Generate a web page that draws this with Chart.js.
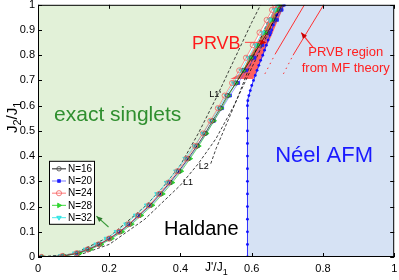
<!DOCTYPE html>
<html><head><meta charset="utf-8">
<script src="https://cdn.jsdelivr.net/npm/chart.js@4.4.0/dist/chart.umd.min.js"></script>
<style>html,body{margin:0;padding:0;background:#fff;overflow:hidden}#wrap{width:399px;height:280px;position:relative}</style>
</head><body><div id="wrap"><canvas id="c" width="399" height="280"></canvas></div>
<script>
// ---- data ----
const xTicks = [0, 0.2, 0.4, 0.6, 0.8, 1];
const yTicks = [0, 0.1, 0.2, 0.3, 0.4, 0.5, 0.6, 0.7, 0.8, 0.9, 1];
const seriesNames = ['N=16', 'N=20', 'N=24', 'N=28', 'N=32'];

const yGrid = [0, 0.004, 0.015, 0.03, 0.05, 0.073, 0.1, 0.13, 0.165, 0.205, 0.25, 0.295, 0.34, 0.39, 0.44, 0.49, 0.54, 0.59, 0.64, 0.69, 0.74, 0.79, 0.84, 0.89, 0.94, 0.98, 1.0];
const xN16 = [0.010, 0.070, 0.110, 0.140, 0.172, 0.200, 0.229, 0.256, 0.283, 0.314, 0.343, 0.370, 0.395, 0.421, 0.446, 0.469, 0.490, 0.512, 0.532, 0.556, 0.578, 0.600, 0.622, 0.644, 0.664, 0.678, 0.685];
const xN20 = [0.012, 0.072, 0.112, 0.143, 0.174, 0.203, 0.232, 0.259, 0.286, 0.317, 0.346, 0.373, 0.398, 0.424, 0.449, 0.472, 0.494, 0.517, 0.539, 0.562, 0.585, 0.608, 0.630, 0.652, 0.671, 0.684, 0.690];
const xN24 = [0.010, 0.068, 0.108, 0.139, 0.170, 0.199, 0.227, 0.254, 0.281, 0.311, 0.340, 0.366, 0.391, 0.417, 0.441, 0.463, 0.484, 0.505, 0.524, 0.545, 0.565, 0.584, 0.603, 0.622, 0.642, 0.657, 0.665];
const xN28 = [0.015, 0.075, 0.117, 0.147, 0.178, 0.207, 0.236, 0.263, 0.290, 0.321, 0.350, 0.377, 0.402, 0.427, 0.451, 0.473, 0.494, 0.515, 0.535, 0.556, 0.576, 0.597, 0.617, 0.638, 0.657, 0.671, 0.678];
const xN32 = [0.005, 0.064, 0.103, 0.133, 0.163, 0.192, 0.220, 0.247, 0.274, 0.305, 0.334, 0.361, 0.387, 0.413, 0.439, 0.463, 0.486, 0.508, 0.528, 0.549, 0.570, 0.590, 0.610, 0.630, 0.650, 0.664, 0.672];

const neelY = [0, 0.05, 0.1, 0.15, 0.2, 0.25, 0.3, 0.35, 0.4, 0.45, 0.5, 0.55, 0.6, 0.62, 0.64, 0.66, 0.68, 0.70, 0.72, 0.74, 0.76, 0.78, 0.80, 0.82, 0.84, 0.86, 0.88, 0.90, 0.92, 0.94, 0.96, 0.98, 1.0];
const neelX = [0.588, 0.588, 0.588, 0.588, 0.588, 0.588, 0.588, 0.588, 0.588, 0.588, 0.588, 0.588, 0.588, 0.589, 0.592, 0.596, 0.600, 0.605, 0.610, 0.615, 0.620, 0.625, 0.631, 0.636, 0.641, 0.646, 0.651, 0.656, 0.661, 0.666, 0.671, 0.681, 0.691];

const prvbX = [0.540, 0.604, 0.615, 0.627, 0.640, 0.655, 0.668, 0.680, 0.692, 0.668, 0.652, 0.632, 0.612, 0.592, 0.572];
const prvbY = [0.706, 0.706, 0.735, 0.780, 0.830, 0.875, 0.920, 0.960, 1.000, 1.000, 0.950, 0.890, 0.840, 0.790, 0.730];

const L1x = [0.10, 0.20, 0.30, 0.40, 0.45, 0.50, 0.55, 0.60, 0.65, 0.68];
const L1y = [0.00, 0.05, 0.15, 0.285, 0.37, 0.47, 0.60, 0.75, 0.90, 1.00];
const L2x = [0.485, 0.50, 0.53, 0.56, 0.59, 0.62, 0.65];
const L2y = [0.37, 0.43, 0.53, 0.63, 0.74, 0.85, 0.95];
const L1px = [0.00, 0.10, 0.20, 0.30, 0.35, 0.40, 0.45, 0.50, 0.55, 0.60, 0.625];
const L1py = [0.00, 0.012, 0.08, 0.20, 0.275, 0.365, 0.49, 0.63, 0.78, 0.93, 1.00];

const mfAdotX = [0.637, 0.666], mfAdotY = [0.726, 0.805];
const mfAX = [0.666, 0.748], mfAY = [0.805, 1.0];
const mfBdotX = [0.689, 0.716], mfBdotY = [0.726, 0.800];
const mfBX = [0.716, 0.802], mfBY = [0.800, 1.0];

// ---- helpers ----
const pts = (xs, ys) => xs.map((v, i) => ({x: v, y: ys[i]}));
const FONT = '"Liberation Sans", Arial, sans-serif';

function series(label, xs, color, lineColor, style, rot, r, fill, order) {
  return {label, data: pts(xs, yGrid), showLine: true, borderColor: lineColor, borderWidth: 0.9,
    pointStyle: style, pointRotation: rot, pointRadius: r, pointBorderColor: color, pointBorderWidth: 0.8,
    pointBackgroundColor: fill, order, tension: 0};
}
function plain(xs, ys, color, dash, width, order) {
  return {label: '', data: pts(xs, ys), showLine: true, borderColor: color, borderWidth: width,
    borderDash: dash, pointRadius: 0, order, tension: 0};
}

const dsN16 = series('N=16', xN16, '#444', 'rgba(0,0,0,0.75)', 'circle', 0, 2.2, 'rgba(255,255,255,0)', 2);
const dsN20 = series('N=20', xN20, '#2020ff', 'rgba(70,70,255,0.6)', 'rect', 0, 2.0, '#2020ff', 6);
const dsN24 = series('N=24', xN24, '#f06060', 'rgba(255,70,70,0.6)', 'circle', 0, 2.6, 'rgba(255,255,255,0)', 1);
const dsN28 = series('N=28', xN28, '#22cc22', 'rgba(30,210,30,0.7)', 'triangle', 90, 2.6, '#33dd33', 5);
const dsN32 = series('N=32', xN32, '#22dddd', 'rgba(40,230,230,0.7)', 'triangle', 180, 2.6, '#44eeee', 4);
const legendSets = [dsN16, dsN20, dsN24, dsN28, dsN32];

const neelSet = {label: '', data: pts(neelX, neelY), showLine: true, borderColor: '#3030ff', borderWidth: 1,
  pointRadius: 1.4, pointBackgroundColor: '#1010ff', pointBorderWidth: 0, order: 7, tension: 0};

const datasets = [
  dsN24, dsN16, dsN32, dsN28, dsN20, neelSet,
  plain(L1x, L1y, '#111', [3, 2], 0.8, 9),
  plain(L2x, L2y, '#111', [3, 2], 0.8, 9),
  plain(L1px, L1py, '#111', [3, 2], 0.8, 9),
  plain(mfAdotX, mfAdotY, '#ff3030', [1.5, 4], 1, 8),
  plain(mfAX, mfAY, '#ff3030', [], 1, 8),
  plain(mfBdotX, mfBdotY, '#ff3030', [1.5, 4], 1, 8),
  plain(mfBX, mfBY, '#ff3030', [], 1, 8)
];

function poly(ctx, x, y, xs, ys, color) {
  ctx.beginPath();
  xs.forEach((v, i) => {
    const px = x.getPixelForValue(v), py = y.getPixelForValue(ys[i]);
    if (i) ctx.lineTo(px, py); else ctx.moveTo(px, py);
  });
  ctx.closePath();
  ctx.fillStyle = color;
  ctx.fill();
}
function txt(ctx, x, y, s, dx, dy, font, color, align) {
  ctx.font = font; ctx.fillStyle = color; ctx.textAlign = align || 'left'; ctx.textBaseline = 'alphabetic';
  ctx.fillText(s, x.getPixelForValue(dx), y.getPixelForValue(dy));
}
function arrow(ctx, x, y, x0, y0, x1, y1, color, head) {
  const a = x.getPixelForValue(x0), b = y.getPixelForValue(y0), c = x.getPixelForValue(x1), d = y.getPixelForValue(y1);
  ctx.strokeStyle = color; ctx.lineWidth = 1.1; ctx.setLineDash([]);
  ctx.beginPath(); ctx.moveTo(a, b); ctx.lineTo(c, d); ctx.stroke();
  const ang = Math.atan2(d - b, c - a), L = 6, W = 2.6;
  ctx.fillStyle = head || color;
  ctx.beginPath(); ctx.moveTo(c, d);
  ctx.lineTo(c - L * Math.cos(ang) + W * Math.sin(ang), d - L * Math.sin(ang) - W * Math.cos(ang));
  ctx.lineTo(c - L * Math.cos(ang) - W * Math.sin(ang), d - L * Math.sin(ang) + W * Math.cos(ang));
  ctx.closePath(); ctx.fill();
}

const deco = {
  id: 'deco',
  beforeDatasetsDraw(chart) {
    const {ctx, chartArea: a, scales: {x, y}} = chart;
    ctx.save();
    ctx.beginPath(); ctx.rect(a.left, a.top, a.right - a.left, a.bottom - a.top); ctx.clip();
    // exact singlets region (upper-left edge of the finite-size curves)
    const edge = yGrid.map((v, i) => Math.min(xN24[i], xN32[i]));
    poly(ctx, x, y, edge.concat([0, 0]), yGrid.concat([1, 0]), '#e2f1d8');
    // Neel region
    poly(ctx, x, y, neelX.concat([1, 1]), neelY.concat([1, 0]), '#d6e2f4');
    // PRVB region
    poly(ctx, x, y, prvbX, prvbY, '#ff6060');
    ctx.restore();
  },
  afterDatasetsDraw(chart) {
    const {ctx, chartArea: a, scales: {x, y}} = chart;
    ctx.save();
    txt(ctx, x, y, 'exact singlets', 0.045, 0.541, '21px ' + FONT, '#2f8f2f');
    txt(ctx, x, y, 'Néel AFM', 0.666, 0.375, '22px ' + FONT, '#1a1aff');
    txt(ctx, x, y, 'Haldane', 0.354, 0.087, '20px ' + FONT, '#000');
    txt(ctx, x, y, 'PRVB', 0.432, 0.826, '18px ' + FONT, '#ff1a1a');
    txt(ctx, x, y, 'PRVB region', 0.864, 0.798, '13px ' + FONT, '#ff2020', 'center');
    txt(ctx, x, y, 'from MF theory', 0.864, 0.735, '13px ' + FONT, '#ff2020', 'center');
    txt(ctx, x, y, "L1'", 0.481, 0.634, '9px ' + FONT, '#000');
    txt(ctx, x, y, 'L2', 0.451, 0.348, '9px ' + FONT, '#000');
    txt(ctx, x, y, 'L1', 0.407, 0.285, '9px ' + FONT, '#000');
    arrow(ctx, x, y, 0.581, 0.851, 0.641, 0.851, '#ff5050', '#cc0000');
    arrow(ctx, x, y, 0.772, 0.831, 0.739, 0.890, '#ff3030', '#cc0000');
    arrow(ctx, x, y, 0.198, 0.119, 0.164, 0.162, '#3a9a3a', '#2a7a2a');
    // frame and inward ticks
    ctx.strokeStyle = '#000'; ctx.lineWidth = 1; ctx.setLineDash([]);
    ctx.strokeRect(a.left + 0.5, a.top + 0.5, a.right - a.left - 1, a.bottom - a.top - 1);
    ctx.beginPath();
    xTicks.forEach(v => { const p = Math.round(x.getPixelForValue(v)) + 0.5;
      ctx.moveTo(p, a.bottom); ctx.lineTo(p, a.bottom - 4); ctx.moveTo(p, a.top); ctx.lineTo(p, a.top + 4); });
    yTicks.forEach(v => { const p = Math.round(y.getPixelForValue(v)) + 0.5;
      ctx.moveTo(a.left, p); ctx.lineTo(a.left + 4, p); ctx.moveTo(a.right, p); ctx.lineTo(a.right - 4, p); });
    ctx.stroke();
    // legend
    const lx = a.left + 11, ly = a.top + 156, lw = 45, lh = 63;
    ctx.fillStyle = '#fff'; ctx.fillRect(lx, ly, lw, lh);
    ctx.strokeStyle = '#000'; ctx.lineWidth = 1; ctx.strokeRect(lx + 0.5, ly + 0.5, lw, lh);
    legendSets.forEach((ds, i) => {
      const ry = ly + 8 + i * 12.2;
      ctx.strokeStyle = ds.borderColor; ctx.lineWidth = 1.2;
      ctx.beginPath(); ctx.moveTo(lx + 3, ry); ctx.lineTo(lx + 17, ry); ctx.stroke();
      ctx.strokeStyle = ds.pointBorderColor; ctx.fillStyle = ds.pointBackgroundColor; ctx.lineWidth = 0.8;
      Chart.helpers.drawPoint(ctx, {pointStyle: ds.pointStyle, radius: ds.pointRadius, rotation: ds.pointRotation, borderWidth: 0.8}, lx + 10, ry);
      ctx.font = '10px ' + FONT; ctx.fillStyle = '#000'; ctx.textAlign = 'left'; ctx.textBaseline = 'middle';
      ctx.fillText(seriesNames[i], lx + 19, ry + 0.5);
    });
    // axis titles
    ctx.fillStyle = '#000'; ctx.textBaseline = 'alphabetic'; ctx.textAlign = 'left';
    let px = 205;
    ctx.font = '12px ' + FONT; ctx.fillText("J'/J", px, 271); px += ctx.measureText("J'/J").width;
    ctx.font = '9px ' + FONT; ctx.fillText('1', px, 275);
    ctx.translate(17, 133); ctx.rotate(-Math.PI / 2);
    let t = 0;
    ctx.font = '15px ' + FONT; ctx.fillText('J', t, 0); t += ctx.measureText('J').width;
    ctx.font = '11px ' + FONT; ctx.fillText('2', t, 4); t += ctx.measureText('2').width;
    ctx.font = '15px ' + FONT; ctx.fillText('/J', t, 0); t += ctx.measureText('/J').width;
    ctx.font = '11px ' + FONT; ctx.fillText('1', t, 4);
    ctx.restore();
  }
};

const fmt = v => (v === 0 || v === 1) ? String(v) : v.toFixed(1);

new Chart(document.getElementById('c'), {
  type: 'scatter',
  data: {datasets},
  options: {
    responsive: false, animation: false, devicePixelRatio: 1,
    layout: {padding: {left: 0, right: 3, top: 4, bottom: 0}},
    plugins: {legend: {display: false}, tooltip: {enabled: false}},
    elements: {line: {fill: false}},
    scales: {
      x: {type: 'linear', min: 0, max: 1,
        afterBuildTicks: s => { s.ticks = xTicks.map(v => ({value: v})); },
        afterFit: s => { s.height = 23; s.paddingLeft = 0; s.paddingRight = 0; },
        ticks: {callback: fmt, font: {family: FONT, size: 11}, color: '#000', padding: 5, maxRotation: 0},
        grid: {display: true, drawOnChartArea: false, drawTicks: false}, border: {display: false}},
      y: {type: 'linear', min: 0, max: 1,
        afterBuildTicks: s => { s.ticks = yTicks.map(v => ({value: v})); },
        afterFit: s => { s.width = 38; s.paddingTop = 0; s.paddingBottom = 0; },
        ticks: {callback: fmt, font: {family: FONT, size: 11}, color: '#000', padding: 3},
        grid: {display: true, drawOnChartArea: false, drawTicks: false}, border: {display: false}}
    }
  },
  plugins: [deco]
});
</script></body></html>
